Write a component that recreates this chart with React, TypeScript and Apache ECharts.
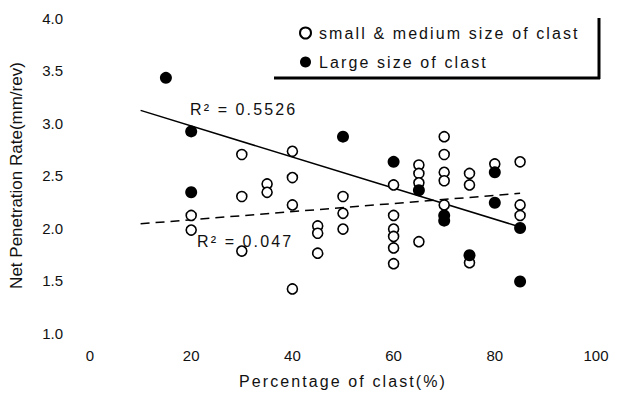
import React, { useEffect, useRef } from "react";
import * as echarts from "echarts";

const xTicks = [0, 20, 40, 60, 80, 100];
const yTicks = [1.0, 1.5, 2.0, 2.5, 3.0, 3.5, 4.0];

const smallMediumX = [20, 20, 30, 30, 30, 35, 35, 40, 40, 40, 40, 45, 45, 45, 50, 50, 50, 60, 60, 60, 60, 60, 60, 65, 65, 65, 65, 70, 70, 70, 70, 70, 75, 75, 75, 80, 85, 85, 85];
const smallMediumY = [2.12, 1.98, 2.70, 2.30, 1.78, 2.42, 2.34, 2.73, 2.48, 2.22, 1.42, 2.02, 1.95, 1.76, 2.30, 2.14, 1.99, 2.41, 2.12, 1.99, 1.92, 1.81, 1.66, 2.60, 2.52, 2.43, 1.87, 2.87, 2.70, 2.53, 2.45, 2.22, 2.52, 2.41, 1.67, 2.61, 2.63, 2.22, 2.12];

const largeX = [15, 20, 20, 50, 60, 65, 70, 70, 75, 80, 80, 85, 85];
const largeY = [3.43, 2.92, 2.34, 2.87, 2.63, 2.36, 2.12, 2.07, 1.74, 2.53, 2.24, 2.0, 1.49];

const fitLargeX = [10, 85];
const fitLargeY = [3.12, 2.01];
const fitSmallX = [10, 85];
const fitSmallY = [2.04, 2.33];

const fitLabels = ["R² = 0.5526", "R² = 0.047"];

const FONT = "Liberation Sans";

const css = `
#npr-chart text[style*="16px"] { letter-spacing: 2.1px; }
`;

export default function App() {
  const ref = useRef<HTMLDivElement>(null);
  useEffect(() => {
    if (!ref.current) return;
    const chart = echarts.init(ref.current, undefined, { renderer: "svg" });
    const zip = (xs: number[], ys: number[]) => xs.map((x, i) => [x, ys[i]]);
    const rText = { fontSize: 16, fontFamily: FONT, fill: "#111" };
    chart.setOption({
      animation: false,
      backgroundColor: "#ffffff",
      textStyle: { fontFamily: FONT, color: "#111" },
      grid: { left: 86, width: 510, top: 18, height: 316 },
      xAxis: {
        type: "value",
        min: xTicks[0],
        max: xTicks[xTicks.length - 1],
        interval: 20,
        axisLine: { show: false },
        axisTick: { show: false },
        splitLine: { show: false },
        axisLabel: { fontSize: 15, color: "#111", margin: 15, fontFamily: FONT },
        name: "Percentage of clast(%)",
        nameLocation: "middle",
        nameGap: 40,
        nameTextStyle: { fontSize: 16, color: "#111", fontFamily: FONT },
      },
      yAxis: {
        type: "value",
        min: yTicks[0],
        max: yTicks[yTicks.length - 1],
        interval: 0.5,
        axisLine: { show: false },
        axisTick: { show: false },
        splitLine: { show: false },
        axisLabel: {
          fontSize: 15,
          color: "#111",
          margin: 27,
          fontFamily: FONT,
          formatter: (v: number) => v.toFixed(1),
        },
        name: "Net Penetration Rate(mm/rev)",
        nameLocation: "middle",
        nameGap: 65,
        nameTextStyle: { fontSize: 17, color: "#111", fontFamily: FONT },
      },
      legend: {
        orient: "vertical",
        left: 294,
        top: 20,
        itemWidth: 11,
        itemHeight: 11,
        itemGap: 13,
        textStyle: { fontSize: 16, color: "#111", fontFamily: FONT, padding: [0, 0, 0, 3] },
        data: ["small & medium size of clast", "Large size of clast"],
      },
      graphic: [
        { type: "line", shape: { x1: 599, y1: 18, x2: 599, y2: 79 }, style: { stroke: "#000", lineWidth: 3 } },
        { type: "line", shape: { x1: 274, y1: 78, x2: 600, y2: 78 }, style: { stroke: "#000", lineWidth: 3 } },
        { type: "text", left: 190, top: 101, style: { ...rText, text: fitLabels[0] } },
        { type: "text", left: 197, top: 233, style: { ...rText, text: fitLabels[1] } },
      ],
      series: [
        {
          name: "fitLarge",
          type: "line",
          data: zip(fitLargeX, fitLargeY),
          symbol: "none",
          lineStyle: { color: "#000", width: 1.5 },
          silent: true,
        },
        {
          name: "fitSmall",
          type: "line",
          data: zip(fitSmallX, fitSmallY),
          symbol: "none",
          lineStyle: { color: "#000", width: 1.5, type: [9, 6] },
          silent: true,
        },
        {
          name: "small & medium size of clast",
          type: "scatter",
          data: zip(smallMediumX, smallMediumY),
          symbol: "circle",
          symbolSize: 10,
          itemStyle: { color: "#fff", borderColor: "#000", borderWidth: 1.6, opacity: 1 },
          z: 3,
        },
        {
          name: "Large size of clast",
          type: "scatter",
          data: zip(largeX, largeY),
          symbol: "circle",
          symbolSize: 12,
          itemStyle: { color: "#000", borderColor: "#000", borderWidth: 0, opacity: 1 },
          z: 4,
        },
      ],
    });
    return () => chart.dispose();
  }, []);
  return (
    <>
      <style>{css}</style>
      <div
        id="npr-chart"
        ref={ref}
        style={{ position: "fixed", left: 0, top: 0, width: 619, height: 394, background: "#fff" }}
      />
    </>
  );
}
